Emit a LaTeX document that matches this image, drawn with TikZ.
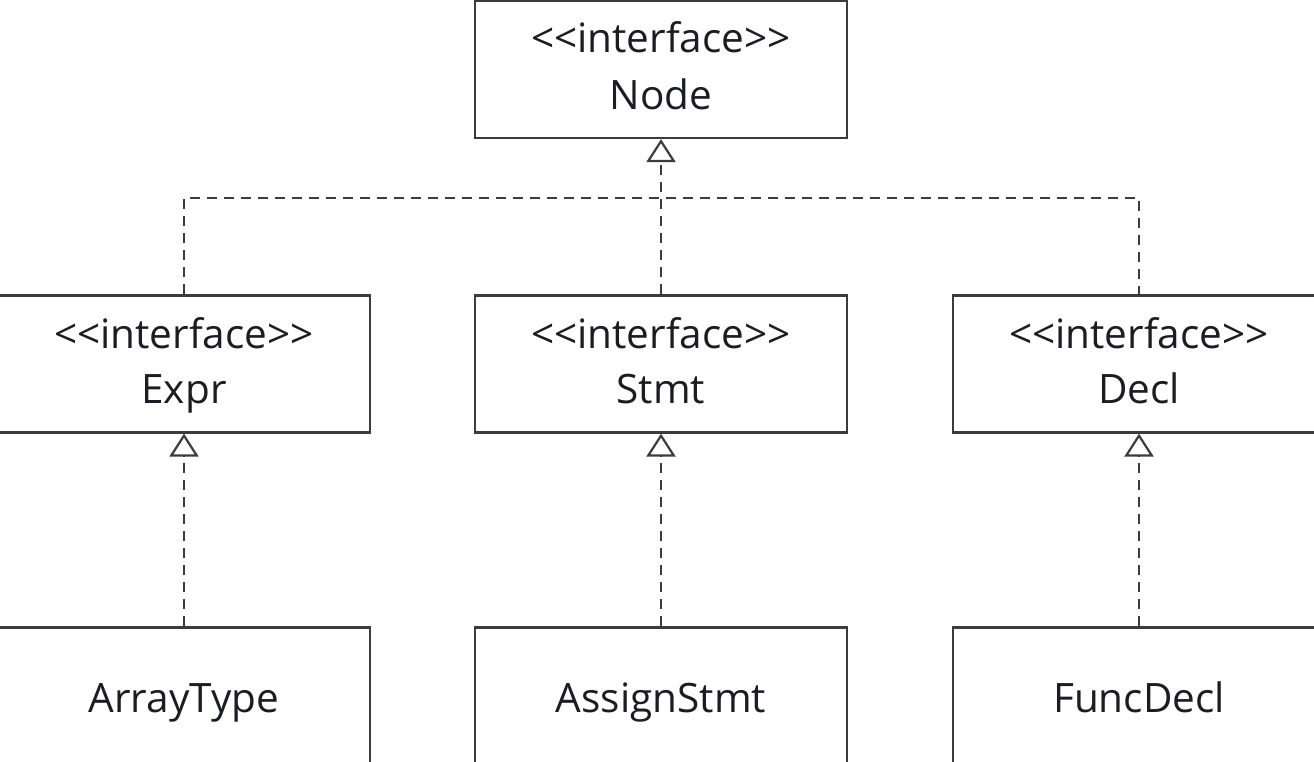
\documentclass[tikz,border=0pt]{standalone}
\usepackage{fontspec}
\setmainfont{Open Sans}
\usetikzlibrary{arrows.meta}
\definecolor{linegray}{HTML}{3C3C3C}
\definecolor{txt}{HTML}{1C1C24}
\begin{document}
\begin{tikzpicture}[x=1pt,y=-1pt,
  box/.style={draw=linegray, line width=2.2pt, fill=white, minimum width=372pt, minimum height=137pt, inner sep=0pt},
  lbl/.style={anchor=base, text=txt, font=\fontsize{40.5}{48}\selectfont, inner sep=0pt},
  realize/.style={draw=linegray, line width=2.2pt, dash pattern=on 10pt off 7pt,
    -{Triangle[open, length=23pt, width=29pt, line width=2.2pt]}},
  dep/.style={draw=linegray, line width=2.2pt, dash pattern=on 10pt off 7pt}]
\useasboundingbox (0,0) rectangle (1314,762);
\clip (0,0) rectangle (1314,762);
\fill[white] (0,0) rectangle (1314,762);
\node[box] (node) at (661,69.5) {};
\node[box] (expr) at (184,364) {};
\node[box] (stmt) at (661,364) {};
\node[box] (decl) at (1139,364) {};
\node[box] (arr) at (184,696) {};
\node[box] (asg) at (661,696) {};
\node[box] (fun) at (1139,696) {};
\node[lbl] (nodeA) at (661,53) {{<}{<}interface{>}{>}};
\node[lbl] (nodeB) at (661,110) {Node};
\node[lbl] (exprA) at (184,348) {{<}{<}interface{>}{>}};
\node[lbl] (exprB) at (184,403) {Expr};
\node[lbl] (stmtA) at (661,348) {{<}{<}interface{>}{>}};
\node[lbl] (stmtB) at (661,403) {Stmt};
\node[lbl] (declA) at (1139,348) {{<}{<}interface{>}{>}};
\node[lbl] (declB) at (1139,403) {Decl};
\node[lbl] (arrT) at (184,712) {ArrayType};
\node[lbl] (asgT) at (661,712) {AssignStmt};
\node[lbl] (funT) at (1139,712) {FuncDecl};
\coordinate (j) at (661,198);
\draw[dep] (expr.north) |- (j) -| (decl.north);
\draw[realize] (stmt.north) -- (node.south);
\draw[realize] (arr.north) -- (expr.south);
\draw[realize] (asg.north) -- (stmt.south);
\draw[realize] (fun.north) -- (decl.south);
\end{tikzpicture}
\end{document}
